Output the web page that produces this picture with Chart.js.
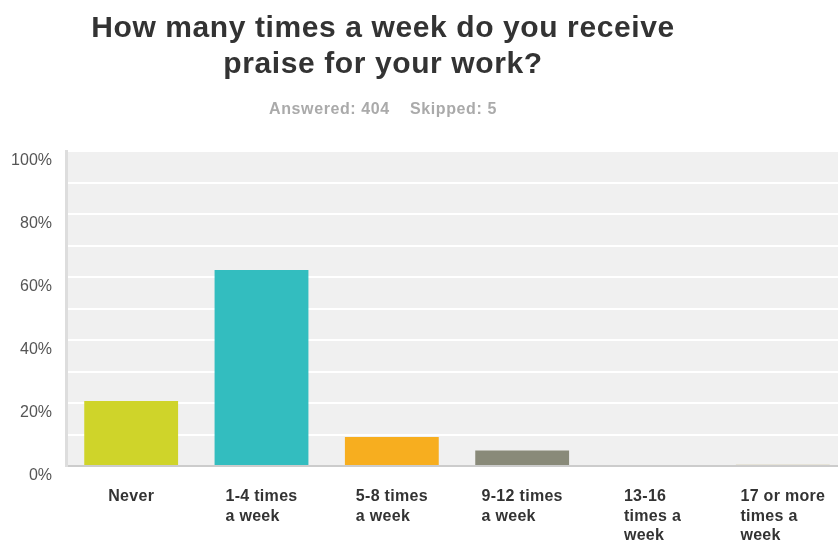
<!DOCTYPE html>
<html>
<head>
<meta charset="utf-8">
<script src="https://cdn.jsdelivr.net/npm/chart.js@4/dist/chart.umd.min.js"></script>
<style>
  html, body { margin: 0; padding: 0; background: #fff; overflow: hidden; }
  body { width: 838px; height: 543px; position: relative; font-family: "Liberation Sans", Arial, Helvetica, sans-serif; }
  #title { position: absolute; left: 0; width: 766px; top: 9px; text-align: center; font-weight: bold; font-size: 30px; letter-spacing: 0.6px; line-height: 36px; color: #333; }
  #sub { position: absolute; left: 0; width: 766px; top: 100px; text-align: center; font-weight: bold; font-size: 16px; letter-spacing: 0.6px; color: #aaa; }
  #wrap { position: absolute; left: 0; top: 0; width: 848px; height: 543px; }
</style>
</head>
<body>
<div id="wrap"><canvas id="chart"></canvas></div>
<div id="title">How many times a week do you receive<br>praise for your work?</div>
<div id="sub">Answered: 404&nbsp;&nbsp;&nbsp;&nbsp;Skipped: 5</div>
<script>
// answer choices and share of respondents (%)
const categories = [['Never'], ['1-4 times', 'a week'], ['5-8 times', 'a week'], ['9-12 times', 'a week'], ['13-16', 'times a', 'week'], ['17 or more', 'times a', 'week']];
const percents = [20.6, 62.2, 9.2, 4.9, 0, 0.5];
const barColors = ['#cfd42a', '#33bdbf', '#f7ae1f', '#898a79', '#e2ddc6', '#dcd6bf'];

// grey plot background
const plotBg = {
  id: 'plotBg',
  beforeDraw(chart) {
    const { ctx, chartArea: a } = chart;
    ctx.save();
    ctx.fillStyle = '#f0f0f0';
    ctx.fillRect(a.left, a.top, a.right - a.left, a.bottom - a.top);
    ctx.restore();
  }
};

// x labels: block centred under the bar, lines left aligned
const leftLabels = {
  id: 'leftLabels',
  afterDraw(chart) {
    const { ctx } = chart;
    const x = chart.scales.x;
    ctx.save();
    ctx.font = 'bold 16px "Liberation Sans", Arial, sans-serif';
    ctx.letterSpacing = '0.3px';
    ctx.fillStyle = '#333333';
    ctx.textBaseline = 'middle';
    ctx.textAlign = 'left';
    categories.forEach((lines, i) => {
      const cx = x.getPixelForTick(i);
      const w = Math.max(...lines.map(l => ctx.measureText(l).width));
      lines.forEach((l, j) => ctx.fillText(l, cx - w / 2, 497 + j * 19.5));
    });
    ctx.restore();
  }
};

new Chart(document.getElementById('chart'), {
  type: 'bar',
  data: {
    labels: categories,
    datasets: [{
      data: percents,
      backgroundColor: barColors,
      borderWidth: 0,
      barPercentage: 0.72,
      categoryPercentage: 1
    }]
  },
  options: {
    responsive: true,
    maintainAspectRatio: false,
    animation: false,
    layout: { padding: { top: 151, left: 0, right: 0, bottom: 0 } },
    plugins: { legend: { display: false }, tooltip: { enabled: false } },
    scales: {
      x: {
        grid: { display: false },
        border: { color: '#cccccc', width: 2 },
        ticks: { display: false },
        afterFit(s) { s.height = 77; }
      },
      y: {
        min: 0,
        max: 100,
        grid: { color: '#ffffff', lineWidth: 2, drawTicks: false },
        border: { color: '#dddddd', width: 3 },
        ticks: {
          stepSize: 10,
          padding: 14,
          labelOffset: 10,
          color: '#555',
          font: { family: '"Liberation Sans", Arial, sans-serif', size: 16 },
          callback: v => (v % 20 === 0 ? v + '%' : '')
        },
        afterFit(s) { s.width = 66; }
      }
    }
  },
  plugins: [plotBg, leftLabels]
});
</script>
</body>
</html>
